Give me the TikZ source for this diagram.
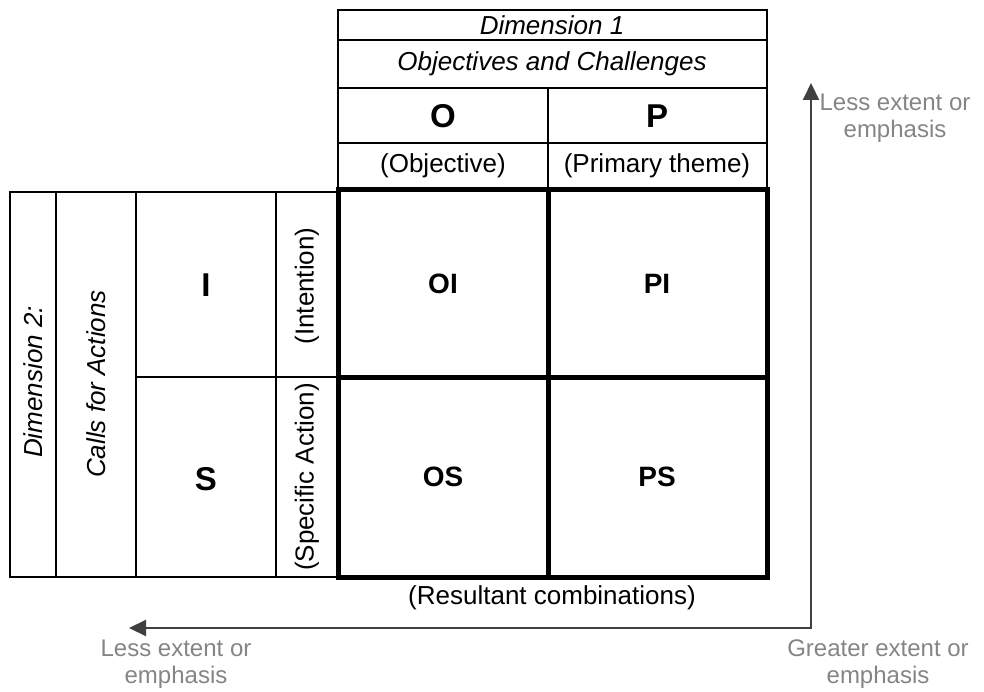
\documentclass[tikz,border=0pt]{standalone}
\usepackage{fontspec}
\setmainfont{Liberation Sans}
\usetikzlibrary{arrows.meta}
\definecolor{arrowgray}{HTML}{404040}
\definecolor{labelgray}{HTML}{858585}
\begin{document}
\begin{tikzpicture}[x=1pt,y=-1pt,
  thinl/.style={line width=2.8pt, black},
  thickl/.style={line width=5pt, black},
  txt/.style={font=\fontsize{26}{30}\selectfont, inner sep=0pt, anchor=center},
  ptxt/.style={font=\fontsize{26}{30}\selectfont, inner sep=0pt, anchor=center},
  itxt/.style={font=\fontsize{26}{30}\selectfont\itshape, inner sep=0pt, anchor=center},
  bigl/.style={font=\fontsize{33}{38}\selectfont\bfseries, inner sep=0pt, anchor=center},
  cell/.style={font=\fontsize{28}{32}\selectfont\bfseries, inner sep=0pt, anchor=center},
  gtxt/.style={font=\fontsize{24}{27}\selectfont, text=labelgray, align=center, inner sep=0pt, anchor=center},
  arr/.style={line width=2pt, draw=arrowgray, -{Triangle[length=17pt,width=16pt]}}
]
\useasboundingbox (0,0) rectangle (984,692);

% top table (Dimension 1)
\draw[thinl] (338,10) rectangle (767,190);
\draw[thinl] (338,40) -- (767,40);
\draw[thinl] (338,88) -- (767,88);
\draw[thinl] (338,143) -- (767,143);
\draw[thinl] (548,88) -- (548,190);

% left table (Dimension 2)
\draw[thinl] (10,192) rectangle (338,577);
\draw[thinl] (56,192) -- (56,577);
\draw[thinl] (136,192) -- (136,577);
\draw[thinl] (276,192) -- (276,577);
\draw[thinl] (136,377) -- (338,377);

% main grid
\draw[thickl] (338,190) rectangle (767,577);
\draw[thickl] (548,190) -- (548,577);
\draw[thickl] (338,377) -- (767,377);

% header texts
\node[itxt] (d1) at (552,25) {Dimension 1};
\node[itxt] (oc) at (552,64) {Objectives and Challenges};
\node[bigl] (O) at (443,116) {O};
\node[bigl] (P) at (657,116) {P};
\node[ptxt] (obj) at (443,166) {(Objective)};
\node[ptxt] (prim) at (657,166) {(Primary theme)};

% left texts
\node[itxt, rotate=90] (d2) at (33,382) {Dimension 2:};
\node[itxt, rotate=90] (cfa) at (96,384) {Calls for Actions};
\node[bigl] (I) at (206,285) {I};
\node[bigl] (S) at (206,479) {S};
\node[txt, rotate=90] (int) at (307,286) {(Intention)};
\node[txt, rotate=90] (spec) at (307,477) {(Specific Action)};

% cells
\node[cell] (OI) at (443,284) {OI};
\node[cell] (PI) at (657,284) {PI};
\node[cell] (OS) at (443,477) {OS};
\node[cell] (PS) at (657,477) {PS};

\node[txt] (res) at (552,598) {(Resultant combinations)};

% arrows
\coordinate (corner) at (811,628);
\coordinate (vtip) at (811,83);
\coordinate (htip) at (129,628);
\draw[line width=2pt, draw=arrowgray, line cap=rect] (corner) -- (811,620);
\draw[arr] (corner) -- (vtip);
\draw[arr] (corner) -- (htip);

\node[gtxt] (lesstop) at (895,118) {Less extent or\\emphasis};
\node[gtxt] (lessbot) at (176,664) {Less extent or\\emphasis};
\node[gtxt] (greater) at (878,664) {Greater extent or\\emphasis};
\end{tikzpicture}
\end{document}
